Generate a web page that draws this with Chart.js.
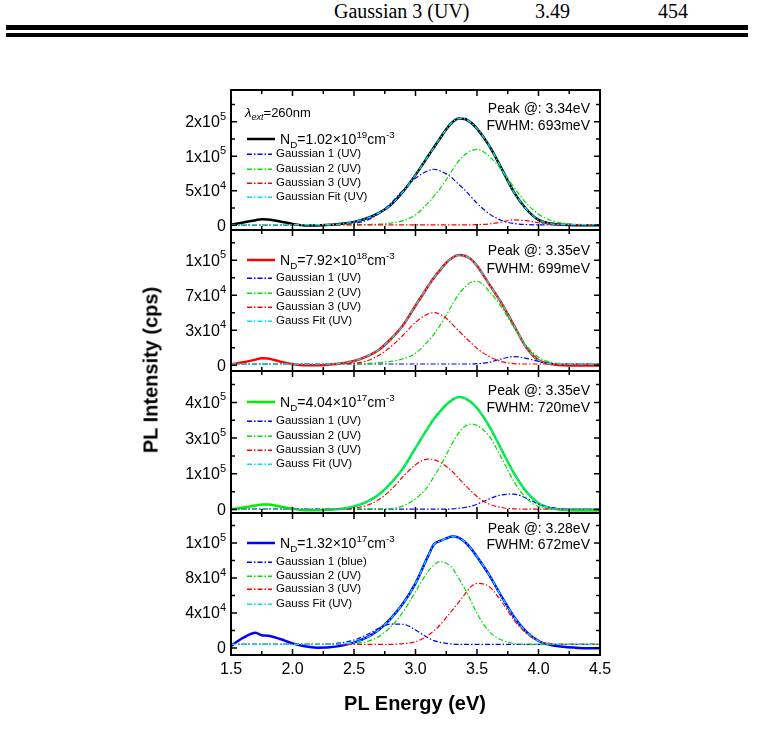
<!DOCTYPE html>
<html>
<head>
<meta charset="utf-8">
<title>PL spectra</title>
<script src="https://cdn.jsdelivr.net/npm/chart.js@4.4.1/dist/chart.umd.min.js"></script>
<style>
  body { margin:0; background:#fff; width:783px; height:736px; position:relative; overflow:hidden;
         font-family:"Liberation Sans", Arial, sans-serif; color:#000; }
  canvas { position:absolute; }
  .t { position:absolute; white-space:nowrap; line-height:1; transform:translateY(-50%); }
  .row { position:absolute; left:247px; display:flex; align-items:center; white-space:nowrap; line-height:1; transform:translateY(-50%); }
  .row svg { display:block; }
  sub, sup { font-size:70%; line-height:0; }
  .hdr { position:absolute; top:1px; font-family:"Liberation Serif","Times New Roman",serif; font-size:20px; line-height:20px; }
  .bar { position:absolute; left:6px; width:742px; background:#000; }
  #yTitle { position:absolute; left:151px; top:370px; transform:translate(-50%,-50%) rotate(-90deg);
            font-weight:bold; font-size:20px; white-space:nowrap; }
  #xTitle { position:absolute; left:415px; top:703px; transform:translate(-50%,-50%);
            font-weight:bold; font-size:20px; white-space:nowrap; }
</style>
</head>
<body>
<div class="hdr" style="left:334px">Gaussian 3 (UV)</div>
<div class="hdr" style="left:535px">3.49</div>
<div class="hdr" style="left:658px">454</div>
<div class="bar" style="top:25px;height:5px"></div>
<div class="bar" style="top:33px;height:4px"></div>

<canvas id="p1"></canvas>
<canvas id="p2"></canvas>
<canvas id="p3"></canvas>
<canvas id="p4"></canvas>

<div id="yTitle">PL Intensity (cps)</div>
<div id="xTitle">PL Energy (eV)</div>
<div class="t" style="left:245px;top:112px;font-size:13px"><i>λ</i><sub><i>ext</i></sub>=260nm</div>
<div id="legends"></div>

<script>
// photon energy (eV), shared by every series
const energy = [1.5, 1.6, 1.7, 1.75, 1.8, 1.9, 2.0, 2.1, 2.2, 2.3, 2.4, 2.5, 2.6, 2.7, 2.8, 2.9, 3.0, 3.1, 3.15,
  3.2, 3.25, 3.3, 3.35, 3.4, 3.45, 3.5, 3.6, 3.7, 3.8, 3.9, 4.0, 4.1, 4.2, 4.3, 4.4, 4.5];

// panel 1 : N_D = 1.02e19
const p1Measured = [500, 3900, 7200, 8700, 8200, 5300, 1900, -500, -500, 500, 1900, 4800, 9700, 17400, 29500, 48800, 72900, 99500, 113000,
  126100, 139100, 149200, 154600, 154100, 148800, 140000, 115000, 82000, 48000, 23500, 7700, 2400, 500, 0, 0, 0];
const p1Gauss1 = [500, 500, 500, 500, 500, 500, 500, 500, 500, 500, 1000, 2400, 6800, 16400, 31900, 51200, 68100, 78700, 81100,
  78700, 74400, 68100, 59400, 51200, 41500, 31900, 16400, 6800, 2400, 1000, 500, 500, 500, 500, 500, 500];
const p1Gauss2 = [500, 500, 500, 500, 500, 500, 500, 500, 500, 500, 500, 500, 800, 1500, 3000, 6500, 15000, 32000, 42000,
  53000, 66000, 80000, 93000, 102000, 108000, 110000, 100000, 80000, 55000, 32000, 16000, 7000, 3000, 1200, 700, 500];
const p1Gauss3 = [500, 500, 500, 500, 500, 500, 500, 500, 500, 500, 500, 500, 500, 500, 500, 500, 500, 500, 500,
  500, 500, 500, 500, 500, 500, 800, 1800, 4500, 7700, 6500, 3500, 1500, 700, 500, 500, 500];
const p1Fit = [700, 700, 700, 700, 700, 700, 700, 700, 700, 700, 1900, 4800, 9700, 17400, 29500, 48800, 72900, 99500, 113000,
  126100, 139100, 149200, 154600, 154100, 148800, 140000, 115000, 82000, 48000, 23500, 7700, 2400, 700, 700, 700, 700];

// panel 2 : N_D = 7.92e18
const p2Measured = [1000, 3000, 5700, 7000, 6700, 3700, 1300, 0, 0, 700, 2000, 4300, 8700, 15300, 26300, 40300, 59600, 78600, 87600,
  95200, 102600, 107600, 110200, 109600, 106200, 99600, 80900, 62000, 40000, 18000, 5000, 1300, 0, -300, -300, -300];
const p2Gauss1 = [1300, 1300, 1300, 1300, 1300, 1300, 1300, 1300, 1300, 1300, 1300, 1300, 1300, 1300, 1300, 1300, 1300, 1300, 1300,
  1300, 1300, 1300, 1300, 1300, 1300, 1600, 3000, 6500, 8700, 7000, 3800, 1800, 1300, 1300, 1300, 1300];
const p2Gauss2 = [1300, 1300, 1300, 1300, 1300, 1300, 1300, 1300, 1300, 1300, 1300, 1300, 1800, 2600, 4000, 6500, 12000, 24000, 31000,
  40000, 50000, 61000, 71000, 78000, 83000, 84000, 74000, 58000, 38000, 20000, 8000, 3000, 1600, 1300, 1300, 1300];
const p2Gauss3 = [1300, 1300, 1300, 1300, 1300, 1300, 1300, 1300, 1300, 1300, 1500, 2000, 4300, 9700, 18600, 30300, 43000, 51300, 52600,
  51000, 47000, 41000, 34600, 28600, 22600, 17000, 8700, 3700, 1700, 1300, 1300, 1300, 1300, 1300, 1300, 1300];
const p2Fit = [1300, 1300, 1300, 1300, 1300, 1300, 1300, 1300, 1300, 1300, 2000, 4300, 8700, 15300, 26300, 40300, 59600, 78600, 87600,
  95200, 102600, 107600, 110200, 109600, 106200, 99600, 80900, 62000, 40000, 18000, 5000, 1500, 1300, 1300, 1300, 1300];

// panel 3 : N_D = 4.04e17
const p3Measured = [1200, 7300, 14600, 18200, 18200, 10900, 2400, -2400, -2400, -1200, 2400, 10900, 26700, 53500, 96000, 150700, 223600, 296500, 329300,
  357200, 381500, 399700, 409500, 405800, 391200, 369400, 302500, 217500, 132500, 65600, 23100, 4900, -1200, -3600, -3600, -3600];
const p3Gauss1 = [1200, 1200, 1200, 1200, 1200, 1200, 1200, 1200, 1200, 1200, 1200, 1200, 1200, 1200, 1200, 1200, 1200, 1200, 1200,
  1200, 1200, 2400, 4500, 7300, 12000, 19400, 38900, 53500, 55900, 41300, 19400, 7300, 2400, 1200, 1200, 1200];
const p3Gauss2 = [1200, 1200, 1200, 1200, 1200, 1200, 1200, 1200, 1200, 1200, 1200, 1200, 1200, 1200, 2400, 13400, 38900, 83800, 120300,
  156700, 199300, 241800, 278200, 302500, 311000, 306200, 266100, 187100, 102100, 41300, 10900, 2400, 1200, 1200, 1200, 1200];
const p3Gauss3 = [1200, 1200, 1200, 1200, 1200, 1200, 1200, 1200, 1200, 1200, 2000, 4900, 14600, 35200, 71700, 120300, 162800, 183500, 181000,
  172500, 156700, 138500, 114200, 89900, 68000, 47400, 19400, 7300, 2400, 1200, 1200, 1200, 1200, 1200, 1200, 1200];
const p3Fit = [1200, 1200, 1200, 1200, 1200, 1200, 1200, 1200, 1200, 1200, 2400, 10900, 26700, 53500, 96000, 150700, 223600, 296500, 329300,
  357200, 381500, 399700, 409500, 405800, 391200, 369400, 302500, 217500, 132500, 65600, 23100, 4900, 1200, 1200, 1200, 1200];

// panel 4 : N_D = 1.32e17
const p4Measured = [2300, 11800, 17500, 14500, 14100, 10300, 5300, 1900, 400, 800, 2700, 6100, 11800, 20600, 33900, 51100, 73900, 104400, 118500,
  122300, 125300, 127300, 126100, 121500, 113900, 104400, 83400, 58700, 35800, 18700, 8000, 3400, 1500, 400, -400, -400];
const p4Gauss1 = [4200, 4200, 4200, 4200, 4200, 4200, 4200, 4200, 4200, 4600, 6100, 9100, 14900, 22500, 27400, 27100, 20600, 11800, 8500,
  6500, 5300, 4600, 4200, 4200, 4200, 4200, 4200, 4200, 4200, 4200, 4200, 4200, 4200, 4200, 4200, 4200];
const p4Gauss2 = [4200, 4200, 4200, 4200, 4200, 4200, 4200, 4200, 4200, 4200, 4200, 5000, 7200, 13000, 24400, 41500, 64400, 87200, 94800,
  98700, 96800, 91100, 80000, 68000, 54000, 39600, 18700, 9100, 5300, 4200, 4200, 4200, 4200, 4200, 4200, 4200];
const p4Gauss3 = [4200, 4200, 4200, 4200, 4200, 4200, 4200, 4200, 4200, 4200, 4200, 4200, 4200, 4200, 4200, 5000, 7200, 14100, 19800,
  26300, 34700, 43400, 52200, 61300, 70100, 73900, 70100, 53000, 32000, 16800, 8000, 5000, 4200, 4200, 4200, 4200];
const p4Fit = [4200, 4200, 4200, 4200, 4200, 4200, 4200, 4200, 4200, 4200, 4800, 6100, 11800, 20600, 33900, 51100, 73900, 104400, 118500,
  122300, 125300, 127300, 126100, 121500, 113900, 104400, 83400, 58700, 35800, 18700, 8000, 4500, 4200, 4200, 4200, 4200];

// y ticks and the labels Origin printed for them
const p1Ticks = [0, 50000, 100000, 150000];
const p2Ticks = [0, 35000, 70000, 105000];
const p3Ticks = [0, 130000, 260000, 390000];
const p4Ticks = [0, 40000, 80000, 120000];
const p1TickLabels = ['0', '5x10^4', '1x10^5', '2x10^5'];
const p2TickLabels = ['0', '3x10^4', '7x10^4', '1x10^5'];
const p3TickLabels = ['0', '1x10^5', '3x10^5', '4x10^5'];
const p4TickLabels = ['0', '4x10^4', '8x10^4', '1x10^5'];
const yMins = [-7000, -5700, -12700, -8000];
const yMaxs = [196000, 135300, 504300, 154300];
const xMajorTicks = [1.5, 2.0, 2.5, 3.0, 3.5, 4.0, 4.5];

const dopingLabels = ['1.02×10<sup>19</sup>', '7.92×10<sup>18</sup>', '4.04×10<sup>17</sup>', '1.32×10<sup>17</sup>'];
const peakLabels = ['3.34eV', '3.35eV', '3.35eV', '3.28eV'];
const fwhmLabels = ['693meV', '699meV', '720meV', '672meV'];
const gaussNames = [
  ['Gaussian 1 (UV)', 'Gaussian 2 (UV)', 'Gaussian 3 (UV)', 'Gaussian Fit (UV)'],
  ['Gaussian 1 (UV)', 'Gaussian 2 (UV)', 'Gaussian 3 (UV)', 'Gauss Fit (UV)'],
  ['Gaussian 1 (UV)', 'Gaussian 2 (UV)', 'Gaussian 3 (UV)', 'Gauss Fit (UV)'],
  ['Gaussian 1 (blue)', 'Gaussian 2 (UV)', 'Gaussian 3 (UV)', 'Gauss Fit (UV)']
];

const panels = [
  { measured: p1Measured, g: [p1Gauss1, p1Gauss2, p1Gauss3], fit: p1Fit, ticks: p1Ticks, labels: p1TickLabels },
  { measured: p2Measured, g: [p2Gauss1, p2Gauss2, p2Gauss3], fit: p2Fit, ticks: p2Ticks, labels: p2TickLabels },
  { measured: p3Measured, g: [p3Gauss1, p3Gauss2, p3Gauss3], fit: p3Fit, ticks: p3Ticks, labels: p3TickLabels },
  { measured: p4Measured, g: [p4Gauss1, p4Gauss2, p4Gauss3], fit: p4Fit, ticks: p4Ticks, labels: p4TickLabels }
];

// layout (pixels)
const panelTop = [90, 230, 371, 513];
const panelBottom = [230, 371, 513, 655];
const legendRowY = [[139, 154, 169, 183, 197], [260, 278, 293, 307, 321], [402, 421, 436, 450, 464], [543, 562, 576, 589, 604]];
const peakRowY = [[108, 125], [250, 268], [390, 407], [528, 544]];

const mainColors = ['#000000', '#ff0000', '#00ee00', '#0000ff'];
const gaussColors = ['#0000ff', '#00dd00', '#ff0000'];
const fitColor = '#00e0ee';
const dashDot = [5, 2, 1.5, 2];

// frame, inward ticks and the y labels with raised exponents
const axesBox = {
  id: 'axesBox',
  afterDatasetsDraw(chart, args, opts) {
    const { ctx, chartArea: a } = chart;
    const x = chart.scales.x, y = chart.scales.y;
    ctx.save();
    ctx.strokeStyle = '#000';
    ctx.lineWidth = 1.5;
    ctx.beginPath();
    xMajorTicks.forEach((v, i) => {
      const marks = [[v, 6]];
      if (i < xMajorTicks.length - 1) marks.push([(v + xMajorTicks[i + 1]) / 2, 4]);
      marks.forEach(([val, len]) => {
        const px = x.getPixelForValue(val);
        ctx.moveTo(px, a.bottom); ctx.lineTo(px, a.bottom - len);
        ctx.moveTo(px, a.top); ctx.lineTo(px, a.top + len);
      });
    });
    const step = opts.ticks[1] - opts.ticks[0];
    opts.ticks.forEach(v => {
      [[v, 6], [v + step / 2, 4]].forEach(([val, len]) => {
        if (val > y.max) return;
        const py = y.getPixelForValue(val);
        ctx.moveTo(a.left, py); ctx.lineTo(a.left + len, py);
        ctx.moveTo(a.right, py); ctx.lineTo(a.right - len, py);
      });
    });
    ctx.stroke();
    ctx.lineWidth = 2;
    ctx.strokeRect(a.left, a.top, a.right - a.left, a.bottom - a.top);

    ctx.fillStyle = '#000';
    ctx.textBaseline = 'middle';
    ctx.textAlign = 'left';
    opts.ticks.forEach((v, i) => {
      const [base, sup] = opts.labels[i].split('^');
      const py = y.getPixelForValue(v);
      ctx.font = '16px "Liberation Sans", Arial, sans-serif';
      const wb = ctx.measureText(base).width;
      ctx.font = '11px "Liberation Sans", Arial, sans-serif';
      const ws = sup ? ctx.measureText(sup).width : 0;
      const x0 = a.left - 5 - wb - ws;
      ctx.font = '16px "Liberation Sans", Arial, sans-serif';
      ctx.fillText(base, x0, py + 1);
      if (sup) {
        ctx.font = '11px "Liberation Sans", Arial, sans-serif';
        ctx.fillText(sup, x0 + wb, py - 5);
      }
    });
    ctx.restore();
  }
};

function series(values) {
  return values.map((v, i) => ({ x: energy[i], y: v }));
}

function buildPanel(i) {
  const p = panels[i];
  const last = i === panels.length - 1;
  const h = panelBottom[i] - panelTop[i];
  const canvas = document.getElementById('p' + (i + 1));
  const cw = 483, ch = last ? h + 6 + 34 : h + 12;
  canvas.width = cw; canvas.height = ch;
  canvas.style.left = '131px';
  canvas.style.top = (panelTop[i] - 6) + 'px';
  canvas.style.width = cw + 'px'; canvas.style.height = ch + 'px';

  const datasets = [
    { data: series(p.fit), borderColor: fitColor, borderWidth: 1.3, borderDash: dashDot, order: 0 },
    { data: series(p.g[2]), borderColor: gaussColors[2], borderWidth: 1.2, borderDash: dashDot, order: 1 },
    { data: series(p.g[1]), borderColor: gaussColors[1], borderWidth: 1.2, borderDash: dashDot, order: 2 },
    { data: series(p.g[0]), borderColor: gaussColors[0], borderWidth: 1.2, borderDash: dashDot, order: 3 },
    { data: series(p.measured), borderColor: mainColors[i], borderWidth: 2.5, order: 4 }
  ];
  datasets.forEach(d => { d.pointRadius = 0; d.cubicInterpolationMode = 'monotone'; d.fill = false; });

  new Chart(canvas, {
    type: 'line',
    data: { datasets },
    options: {
      responsive: false,
      animation: false,
      devicePixelRatio: 1,
      layout: { padding: { top: 6, bottom: last ? 0 : 6, left: 0, right: 14 } },
      plugins: {
        legend: { display: false },
        tooltip: { enabled: false },
        axesBox: { ticks: p.ticks, labels: p.labels }
      },
      scales: {
        x: {
          type: 'linear', min: 1.5, max: 4.5,
          display: last,
          grid: { display: false, drawTicks: false },
          border: { display: false },
          ticks: {
            stepSize: 0.5, autoSkip: false, maxRotation: 0, padding: 5, color: '#000',
            font: { family: '"Liberation Sans", Arial, sans-serif', size: 16 },
            callback: v => v.toFixed(1)
          },
          afterFit: s => { s.height = last ? 34 : 0; s.paddingLeft = 0; s.paddingRight = 0; }
        },
        y: {
          min: yMins[i], max: yMaxs[i],
          grid: { display: false, drawTicks: false },
          border: { display: false },
          ticks: { display: false },
          afterBuildTicks: s => { s.ticks = p.ticks.map(v => ({ value: v })); },
          afterFit: s => { s.width = 100; s.paddingTop = 0; s.paddingBottom = 0; }
        }
      }
    },
    plugins: [axesBox]
  });
}

function sample(color, width, dashed, len) {
  const dash = dashed ? ` stroke-dasharray="${dashDot.join(' ')}"` : '';
  return `<svg width="${len}" height="8"><line x1="0" y1="4" x2="${len}" y2="4" stroke="${color}" stroke-width="${width}"${dash}/></svg>`;
}

function buildLegend(i) {
  const rows = legendRowY[i];
  let html = `<div class="row" style="top:${rows[0]}px">${sample(mainColors[i], 2.5, false, 28)}` +
    `<span style="margin-left:5px;font-size:14px">N<sub>D</sub>=${dopingLabels[i]}cm<sup>-3</sup></span></div>`;
  const cols = [gaussColors[0], gaussColors[1], gaussColors[2], fitColor];
  gaussNames[i].forEach((name, k) => {
    html += `<div class="row" style="top:${rows[k + 1]}px">${sample(cols[k], 1.3, true, 25)}` +
      `<span style="margin-left:4px;font-size:11.5px">${name}</span></div>`;
  });
  html += `<div class="t" style="right:193px;top:${peakRowY[i][0]}px;font-size:14px">Peak @: ${peakLabels[i]}</div>`;
  html += `<div class="t" style="right:193px;top:${peakRowY[i][1]}px;font-size:14px">FWHM: ${fwhmLabels[i]}</div>`;
  return html;
}

let legendHtml = '';
for (let i = 0; i < panels.length; i++) {
  buildPanel(i);
  legendHtml += buildLegend(i);
}
document.getElementById('legends').innerHTML = legendHtml;
</script>
</body>
</html>
